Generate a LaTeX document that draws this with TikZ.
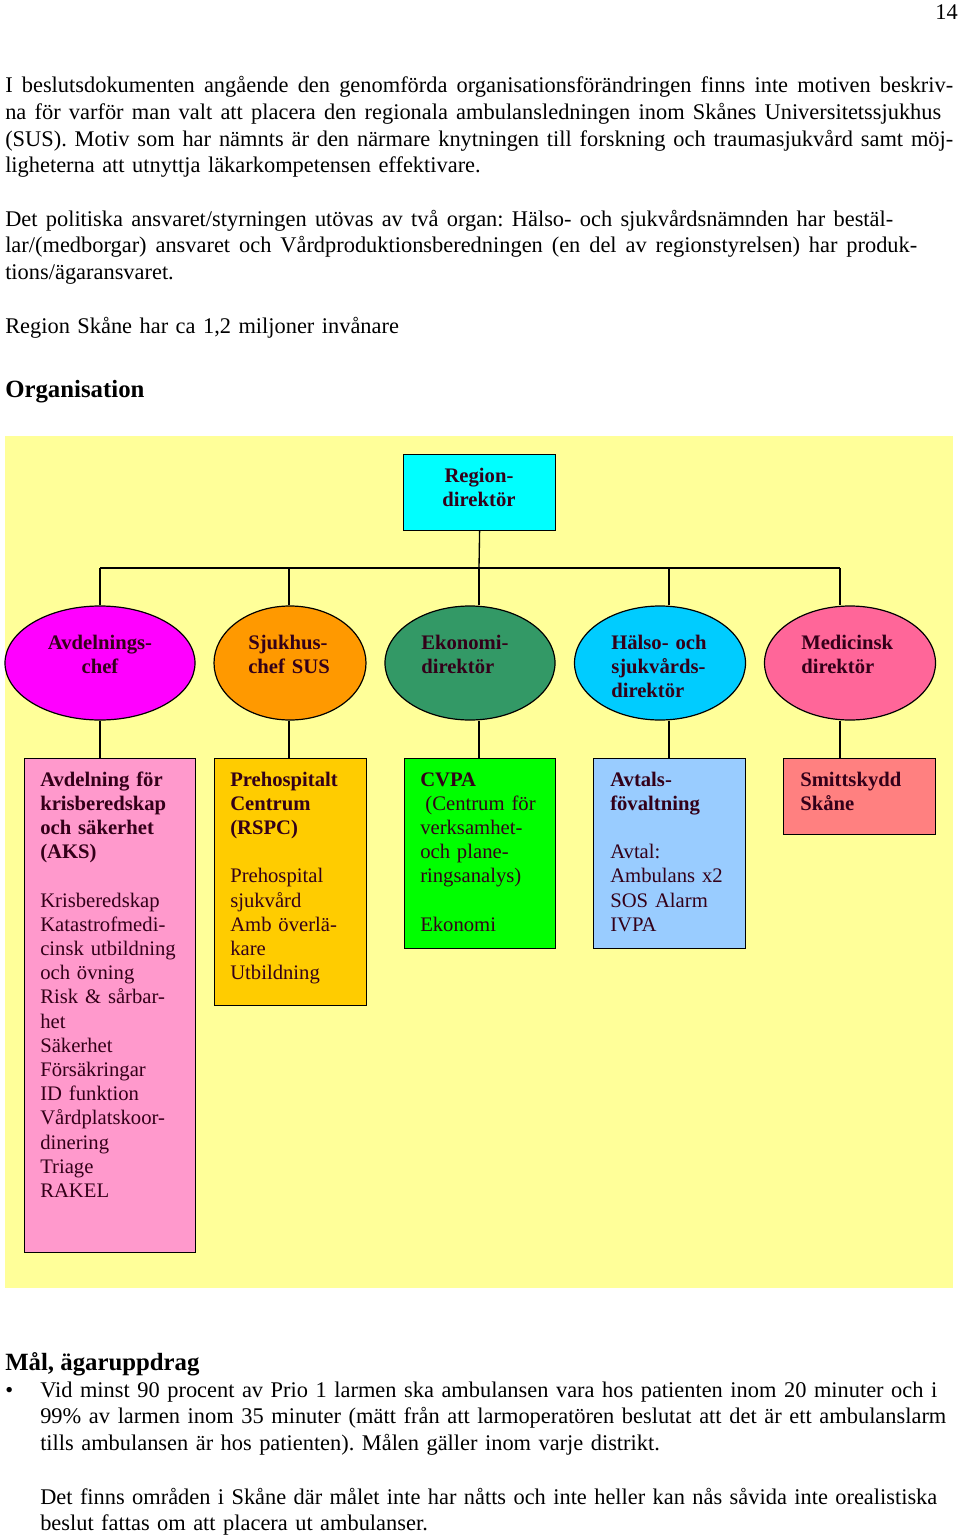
\documentclass[tikz,border=0pt]{standalone}
\usepackage{fontspec}
\setmainfont{Liberation Serif}
\usetikzlibrary{shapes.geometric}
\definecolor{yellowbg}{HTML}{FFFF99}
\definecolor{regcyan}{HTML}{00FFFF}
\definecolor{emag}{HTML}{FF00FF}
\definecolor{eorange}{HTML}{FF9900}
\definecolor{egreen}{HTML}{339966}
\definecolor{esky}{HTML}{00CCFF}
\definecolor{epink}{HTML}{FF6699}
\definecolor{bpink}{HTML}{FF99CC}
\definecolor{bgold}{HTML}{FFCC00}
\definecolor{bgreen}{HTML}{00FF00}
\definecolor{bblue}{HTML}{99CCFF}
\definecolor{bsalmon}{HTML}{FF8080}
\definecolor{ink}{RGB}{51,0,25}
\frenchspacing
\newcommand{\bodyfont}{\fontsize{16.8}{20}\selectfont}
\newcommand{\diafont}{\fontsize{15.5}{18.15}\selectfont}
\newcommand{\headfont}{\fontsize{18.6}{22}\selectfont\bfseries}
\newcommand{\jl}[2]{\leavevmode\hbox to #1{\spaceskip=0.2em plus 1fil minus 0.06em\relax #2}}
\begin{document}
\begin{tikzpicture}[x=0.75pt,y=-0.75pt,
  ell/.style={ellipse, draw=black, line width=0.9pt, inner sep=0pt, minimum height=85.5pt},
  orgbox/.style={rectangle, draw=black, line width=0.9pt, inner sep=0pt, anchor=north west},
  conn/.style={draw=black, line width=1pt},
  dtext/.style={inner sep=0pt, text width=150pt, align=left, anchor=base west, text=ink, font=\diafont},
  dctext/.style={inner sep=0pt, text width=120pt, align=center, anchor=base, text=ink, font=\diafont\bfseries},
  btext/.style={inner sep=0pt, anchor=base west, align=left, text width=730pt, font=\bodyfont},
  htext/.style={inner sep=0pt, anchor=base west, font=\headfont}]
\useasboundingbox (0,0) rectangle (960,1538);
\fill[white] (0,0) rectangle (960,1538);

% page number
\node[inner sep=0pt, anchor=base east, font=\bodyfont] (pnum) at (958,20) {14};

% introduction text
\node[btext] (p1) at (5,93) {\jl{711pt}{I beslutsdokumenten angående den genomförda organisationsförändringen finns inte motiven beskriv-}\\
\jl{702pt}{na för varför man valt att placera den regionala ambulansledningen inom Skånes Universitetssjukhus}\\
\jl{711pt}{(SUS). Motiv som har nämnts är den närmare knytningen till forskning och traumasjukvård samt möj-}\\
ligheterna att utnyttja läkarkompetensen effektivare.};
\node[btext] (p2) at (5,226) {\jl{666pt}{Det politiska ansvaret/styrningen utövas av två organ: Hälso- och sjukvårdsnämnden har bestäl-}\\
\jl{684pt}{lar/(medborgar) ansvaret och Vårdproduktionsberedningen (en del av regionstyrelsen) har produk-}\\
tions/ägaransvaret.};
\node[btext] (p3) at (5,333) {Region Skåne har ca 1,2 miljoner invånare};
\node[htext] (h1) at (5,397) {Organisation};

% chart background
\fill[yellowbg] (5,436) rectangle (953,1288);

% top box
\node[orgbox, fill=regcyan, minimum width=114pt, minimum height=57pt] (reg) at (403,454) {};
\node[dctext] (treg) at (479,482) {Region-\\direktör};

% ellipses
\node[ell, fill=emag, minimum width=142.5pt] (e1) at (100,663) {};
\node[ell, fill=eorange, minimum width=114pt] (e2) at (290,663) {};
\node[ell, fill=egreen, minimum width=127.5pt] (e3) at (470,663) {};
\node[ell, fill=esky, minimum width=128.25pt] (e4) at (660,663) {};
\node[ell, fill=epink, minimum width=128.25pt] (e5) at (850,663) {};
\node[dctext] (te1) at (100,649) {Avdelnings-\\chef};
\node[dtext, font=\diafont\bfseries] (te2) at (248,649) {Sjukhus-\\chef SUS};
\node[dtext, font=\diafont\bfseries] (te3) at (421,649) {Ekonomi-\\direktör};
\node[dtext, font=\diafont\bfseries] (te4) at (611,649) {Hälso- och\\sjukvårds-\\direktör};
\node[dtext, font=\diafont\bfseries] (te5) at (801,649) {Medicinsk\\direktör};

% lower boxes
\node[orgbox, fill=bpink, minimum width=128.25pt, minimum height=370.5pt] (b1) at (24,758) {};
\node[orgbox, fill=bgold, minimum width=114pt, minimum height=185.25pt] (b2) at (214,758) {};
\node[orgbox, fill=bgreen, minimum width=113.25pt, minimum height=142.5pt] (b3) at (404,758) {};
\node[orgbox, fill=bblue, minimum width=114pt, minimum height=142.5pt] (b4) at (593,758) {};
\node[orgbox, fill=bsalmon, minimum width=114pt, minimum height=57pt] (b5) at (783,758) {};

\node[dtext] (tb1) at (40,786) {\textbf{Avdelning för}\\\textbf{krisberedskap}\\\textbf{och säkerhet}\\\textbf{(AKS)}\\\mbox{}\\Krisberedskap\\Katastrofmedi-\\cinsk utbildning\\och övning\\Risk \& sårbar-\\het\\Säkerhet\\Försäkringar\\ID funktion\\Vårdplatskoor-\\dinering\\Triage\\RAKEL};
\node[dtext] (tb2) at (230,786) {\textbf{Prehospitalt}\\\textbf{Centrum}\\\textbf{(RSPC)}\\\mbox{}\\Prehospital\\sjukvård\\Amb överlä-\\kare\\Utbildning};
\node[dtext] (tb3) at (420,786) {\textbf{CVPA}\\\hspace*{0.25em}(Centrum för\\verksamhet-\\och plane-\\ringsanalys)\\\mbox{}\\Ekonomi};
\node[dtext] (tb4) at (610,786) {\textbf{Avtals-}\\\textbf{fövaltning}\\\mbox{}\\Avtal:\\Ambulans x2\\SOS Alarm\\IVPA};
\node[dtext] (tb5) at (800,786) {\textbf{Smittskydd}\\\textbf{Skåne}};

% connectors
\coordinate (k1) at (100,568);
\coordinate (k2) at (289,568);
\coordinate (k3) at (479,568);
\coordinate (k4) at (669,568);
\coordinate (k5) at (840,568);
\draw[conn] (reg.south) -- (k3);
\draw[conn] (k1) -- (k5);
\draw[conn] (k1) -- (k1 |- e1.north);
\draw[conn] (k2) -- (k2 |- e2.north);
\draw[conn] (k3) -- (k3 |- e3.north);
\draw[conn] (k4) -- (k4 |- e4.north);
\draw[conn] (k5) -- (k5 |- e5.north);
\draw[conn] (k1 |- e1.south) -- (k1 |- b1.north);
\draw[conn] (k2 |- e2.south) -- (k2 |- b2.north);
\draw[conn] (k3 |- e3.south) -- (k3 |- b3.north);
\draw[conn] (k4 |- e4.south) -- (k4 |- b4.north);
\draw[conn] (k5 |- e5.south) -- (k5 |- b5.north);

% goals
\node[htext] (h2) at (5,1370) {Mål, ägaruppdrag};
\node[inner sep=0pt, anchor=base west, font=\bodyfont] (bul) at (5,1397) {•};
\node[btext, text width=700pt] (g1) at (40,1397) {\jl{672.75pt}{Vid minst 90 procent av Prio 1 larmen ska ambulansen vara hos patienten inom 20 minuter och i}\\
\jl{679.5pt}{99\% av larmen inom 35 minuter (mätt från att larmoperatören beslutat att det är ett ambulanslarm}\\
tills ambulansen är hos patienten). Målen gäller inom varje distrikt.};
\node[btext, text width=700pt] (g2) at (40,1504) {\jl{672.75pt}{Det finns områden i Skåne där målet inte har nåtts och inte heller kan nås såvida inte orealistiska}\\
beslut fattas om att placera ut ambulanser.};
\end{tikzpicture}
\end{document}
